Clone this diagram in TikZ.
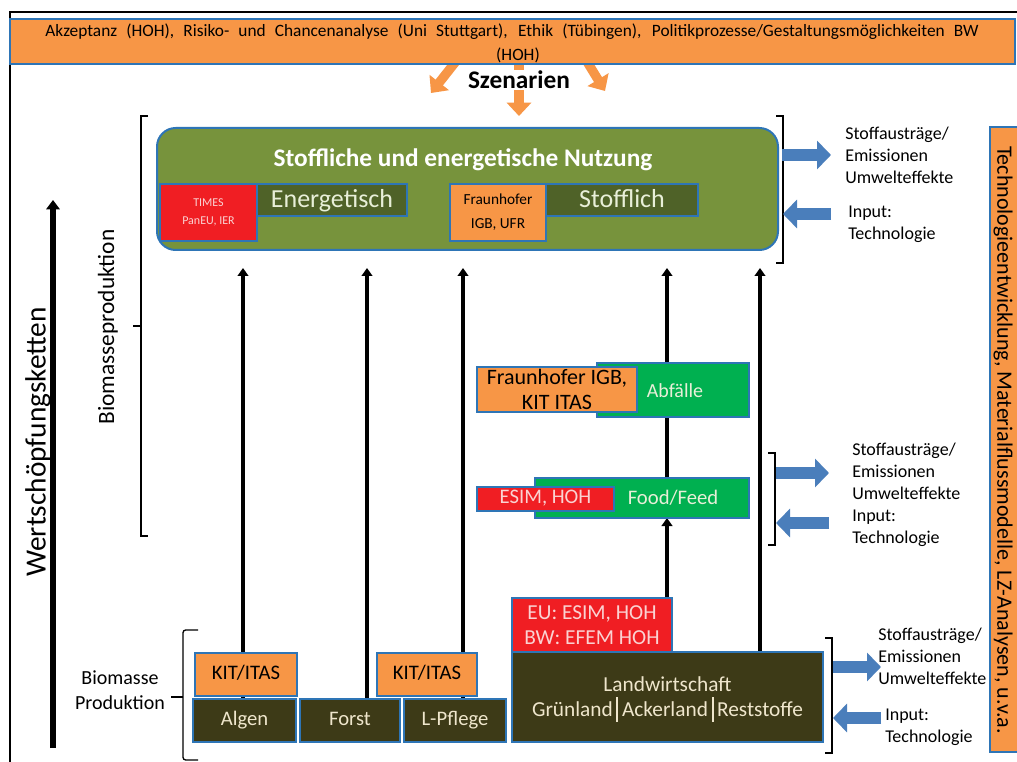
\documentclass[tikz,border=0pt]{standalone}
\usepackage{fontspec}
\setmainfont{Carlito}
\usetikzlibrary{arrows.meta}
\definecolor{orng}{HTML}{F79646}
\definecolor{bblue}{HTML}{2E75B6}
\definecolor{gmain}{HTML}{77933C}
\definecolor{dgreen}{HTML}{4F6228}
\definecolor{dbrown}{HTML}{3D3A17}
\definecolor{bgreen}{HTML}{00B050}
\definecolor{rred}{HTML}{F01E23}
\definecolor{pinktxt}{HTML}{FAD2D2}
\definecolor{beige}{HTML}{EFE6CC}
\definecolor{lgtxt}{HTML}{E8EFD8}
\definecolor{arrblue}{HTML}{4A7EBB}
\newcommand{\fsz}[2]{\fontsize{#1}{#2}\selectfont}
\newcommand{\sepbar}{\,\smash{\rule[-4pt]{1.5pt}{19pt}}\,}
\begin{document}
\begin{tikzpicture}[x=0.75pt,y=-0.75pt,
  bx/.style 2 args={draw=bblue, line width=1.2pt, minimum width=#1*0.75pt, minimum height=#2*0.75pt, inner sep=0pt, align=center},
  sl/.style={execute at begin node={\vphantom{Ag}}},
  oarrow/.style={draw=orng, line width=7pt, -{Triangle[width=18pt,length=10pt]}},
  barrow/.style={draw=black, line width=3pt, -{Triangle[width=8pt,length=6pt]}},
  bigarrow/.style={draw=black, line width=5pt, -{Triangle[width=10pt,length=7pt]}},
  barline/.style={draw=black, line width=3pt},
  sarrow/.style={draw=arrblue, line width=9pt, -{Triangle[width=21pt,length=10.5pt]}},
  brk/.style={draw=black, line width=1pt},
  sidetxt/.style={anchor=west, align=left, inner sep=0pt, font=\fsz{13.5}{16.5}},
  txt/.style={inner sep=0pt, align=center}
]
\useasboundingbox (0,0) rectangle (1017,762);
\fill[white] (0,0) rectangle (1017,762);
% frame
\draw[line width=0.8pt] (10,770) -- (10,12) -- (1020,12);

% scenario arrows
\coordinate (sl0) at (457,60); \coordinate (sl1) at (431,93);
\coordinate (sc0) at (519,62); \coordinate (sc1) at (519,116);
\coordinate (sr0) at (586,60); \coordinate (sr1) at (605,91);
\draw[oarrow] (sl0) -- (sl1);
\draw[oarrow] (sc0) -- (sc1);
\draw[oarrow] (sr0) -- (sr1);

% banner
\node[bx={1005}{45}, fill=orng, line width=1.5pt] (banner) at (512.5,41.5) {};
\node[txt, font=\fsz{13}{15}] (bant1) at (512,32) {\makebox[700pt][s]{Akzeptanz (HOH), Risiko- und Chancenanalyse (Uni Stuttgart), Ethik (Tübingen), Politikprozesse/Gestaltungsmöglichkeiten BW}};
\node[txt, font=\fsz{13}{15}] (bant2) at (518,55) {(HOH)};
\node[fill=white, inner sep=1pt, font=\fsz{19}{21}\bfseries] (szen) at (519,80) {Szenarien};

% brackets
\draw[brk] (148,116) -- (141,116) -- (141,536) -- (148,536);
\draw[brk] (141,326) -- (133,326);
\draw[brk] (776,116) -- (783,116) -- (783,263) -- (776,263);
\draw[brk] (768,453) -- (775,453) -- (775,545) -- (768,545);
\draw[brk] (825,638) -- (832,638) -- (832,753) -- (825,753);
\draw[brk, rounded corners=2pt] (198,630) -- (183,630) -- (183,760) -- (198,760);
\draw[brk] (183,697) -- (171,697);

% main green box
\node[draw=bblue, line width=1.5pt, fill=gmain, rounded corners=14pt, minimum width=621*0.75pt, minimum height=122*0.75pt, inner sep=0pt] (nutz) at (467.5,189) {};
\node[txt, text=white, font=\fsz{19}{21}\bfseries] (nutzt) at (463,160) {Stoffliche und energetische Nutzung};
\node[bx={197}{32}, fill=dgreen] (energ) at (308.5,200) {};
\node[txt, sl, text=lgtxt, font=\fsz{19.5}{22}] (energt) at (332,201) {Energetisch};
\node[bx={97}{57}, fill=rred, text=pinktxt, font=\fsz{9}{13}] (times) at (208.5,212.5) {TIMES\\PanEU, IER};
\node[bx={153}{32}, fill=dgreen] (stoff) at (621.5,200) {};
\node[txt, sl, text=lgtxt, font=\fsz{19.5}{22}] (stofft) at (622,201) {Stofflich};
\node[bx={96}{57}, fill=orng, font=\fsz{11.5}{18}] (fhigb) at (498,212.5) {Fraunhofer\\IGB, UFR};

% black arrows (behind boxes)
\coordinate (t1) at (243,268);
\coordinate (t2) at (367,268);
\coordinate (t3) at (463,268);
\coordinate (t4) at (667,268);
\coordinate (t5) at (760,268);
\coordinate (b1) at (243,699);
\coordinate (b2) at (367,699);
\coordinate (b3) at (463,699);
\coordinate (b5) at (760,652);
\coordinate (m1) at (667,363);
\coordinate (m2) at (667,417);
\coordinate (m3) at (667,478);
\coordinate (m4) at (667,518);
\coordinate (m5) at (667,598);
\draw[barrow] (b1) -- (t1);
\draw[barrow] (b2) -- (t2);
\draw[barrow] (b3) -- (t3);
\draw[barrow] (m1) -- (t4);
\draw[barline] (m2) -- (m3);
\draw[barrow] (m5) -- (m4);
\draw[barrow] (b5) -- (t5);

% middle boxes
\node[bx={152}{54}, fill=bgreen] (abf) at (673,390) {};
\node[txt, sl, text=lgtxt, font=\fsz{15}{18}] (abft) at (675,392) {Abfälle};
\node[bx={160}{45}, fill=orng, font=\fsz{16.5}{18.75}] (fhkit) at (557,389.5) {Fraunhofer IGB,\\KIT ITAS};
\node[bx={214}{40}, fill=bgreen] (food) at (642,498) {};
\node[txt, sl, text=lgtxt, font=\fsz{15.5}{18}] (foodt) at (673,499) {Food/Feed};
\node[bx={137}{24}, sl, fill=rred, text=pinktxt, font=\fsz{15.5}{18}] (esim) at (545.5,499) {ESIM, HOH};

% bottom boxes
\node[bx={160}{54}, fill=rred, text=pinktxt, font=\fsz{16}{18.75}] (eu) at (592,625) {EU: ESIM, HOH\\BW: EFEM HOH};
\node[bx={311}{90}, fill=dbrown, text=beige, font=\fsz{16}{18.75}] (landw) at (667.5,697) {Landwirtschaft\\Grünland\sepbar Ackerland\sepbar Reststoffe};
\node[bx={102}{43}, sl, fill=orng, font=\fsz{15.5}{16}] (kit1) at (246,674.5) {KIT/ITAS};
\node[bx={103}{43}, sl, fill=dbrown, text=beige, font=\fsz{15.5}{16}] (algen) at (244.5,720.5) {Algen};
\node[bx={100}{43}, sl, fill=dbrown, text=beige, font=\fsz{15.5}{16}] (forst) at (350,720.5) {Forst};
\node[bx={102}{43}, sl, fill=dbrown, text=beige, font=\fsz{15.5}{16}] (lpfl) at (455,720.5) {L-Pflege};
\node[bx={100}{43}, sl, fill=orng, font=\fsz{15.5}{16}] (kit2) at (427,674.5) {KIT/ITAS};

% left labels
\coordinate (w0) at (53,748); \coordinate (w1) at (53,200);
\draw[bigarrow] (w0) -- (w1);
\node[txt, rotate=90, font=\fsz{22}{24}] (wert) at (38,442) {Wertschöpfungsketten};
\node[txt, rotate=90, font=\fsz{17.5}{19}] (biop) at (108,327) {Biomasseproduktion};
\node[txt, font=\fsz{15}{18.75}] (biom) at (120,690) {Biomasse\\Produktion};

% right orange box
\node[bx={32}{625}, fill=orng] (tech) at (1006,439.5) {};
\node[txt, rotate=-90, font=\fsz{16.5}{18}] (techt) at (1003,440) {Technologieentwicklung, Materialflussmodelle, LZ-Analysen, u.v.a.};

% side arrows and texts
\coordinate (ra0) at (782,155); \coordinate (ra1) at (831,155);
\coordinate (la0) at (831,214); \coordinate (la1) at (783,214);
\draw[sarrow] (ra0) -- (ra1);
\draw[sarrow] (la0) -- (la1);
\node[sidetxt] (st1) at (845,155) {Stoffausträge/\\Emissionen\\Umwelteffekte};
\node[sidetxt] (in1) at (848,224) {Input:\\Technologie};

\coordinate (rb0) at (776,473); \coordinate (rb1) at (829,473);
\coordinate (lb0) at (829,523); \coordinate (lb1) at (776,523);
\draw[sarrow] (rb0) -- (rb1);
\draw[sarrow] (lb0) -- (lb1);
\node[sidetxt] (st2) at (852,471) {Stoffausträge/\\Emissionen\\Umwelteffekte};
\node[sidetxt] (in2) at (852,528) {Input:\\Technologie};

\coordinate (rc0) at (833,667); \coordinate (rc1) at (881,667);
\coordinate (lc0) at (881,718); \coordinate (lc1) at (833,718);
\draw[sarrow] (rc0) -- (rc1);
\draw[sarrow] (lc0) -- (lc1);
\node[sidetxt] (st3) at (878,656) {Stoffausträge/\\Emissionen\\Umwelteffekte};
\node[sidetxt] (in3) at (885,727) {Input:\\Technologie};
\end{tikzpicture}
\end{document}
